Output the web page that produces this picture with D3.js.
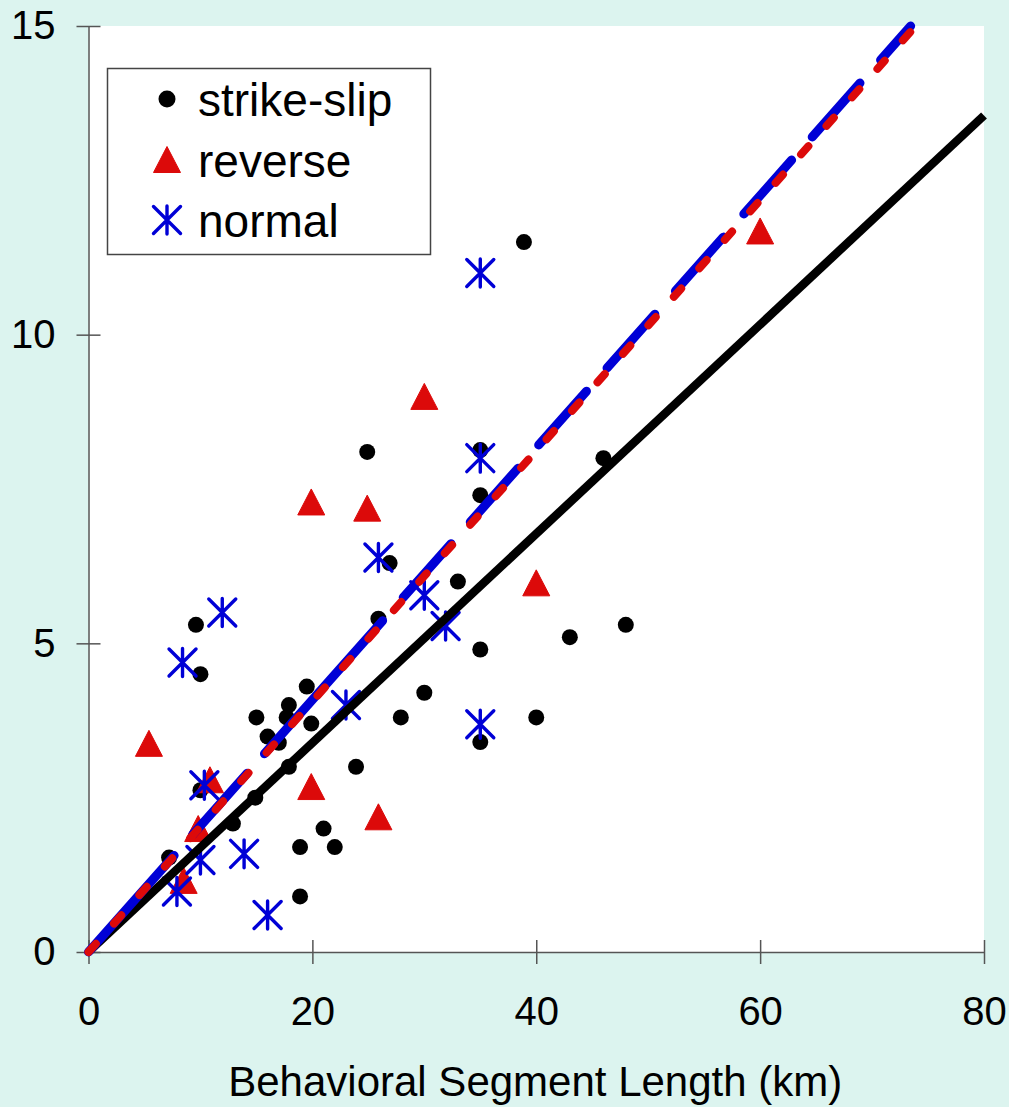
<!DOCTYPE html>
<html>
<head>
<meta charset="utf-8">
<script src="https://cdn.jsdelivr.net/npm/d3@7"></script>
<style>
  html, body { margin: 0; padding: 0; background: #dcf4ef; }
  svg { display: block; font-family: "Liberation Sans", Arial, sans-serif; }
</style>
</head>
<body>
<svg id="chart" width="1009" height="1107"></svg>
<script>
// strike-slip (black dots)
const strikeX = [7.2, 9.6, 10, 10, 12.9, 14.9, 15, 16, 17, 17.9, 17.7, 17.9, 19.5, 19.9, 18.9, 18.9, 21, 22,
  23.9, 24.9, 25.9, 26.9, 27.9, 30, 33, 35, 35, 35, 35, 38.9, 40, 43, 46, 48];
const strikeY = [1.53, 5.3, 4.5, 2.62, 2.08, 2.5, 3.8, 3.49, 3.39, 4.0, 3.8, 3.0, 4.3, 3.7, 0.9, 1.7, 2.0, 1.7,
  3.0, 8.1, 5.4, 6.3, 3.8, 4.2, 6.0, 8.13, 7.4, 4.9, 3.4, 11.5, 3.8, 5.1, 8.0, 5.3];

// reverse (red triangles)
const reverseX = [5.4, 8.5, 9.8, 10.85, 19.9, 19.9, 24.9, 25.9, 30, 40, 60];
const reverseY = [3.38, 1.16, 2.0, 2.79, 2.68, 7.29, 7.19, 2.19, 9.0, 5.98, 11.68];

// normal (blue asterisks)
const normalX = [7.9, 8.4, 10, 10.35, 11.95, 13.9, 16, 23, 25.9, 30, 31.9, 35, 35, 35];
const normalY = [0.98, 4.69, 1.49, 2.7, 5.5, 1.59, 0.6, 4.0, 6.39, 5.78, 5.28, 8.0, 3.69, 11.0];

// fitted lines
const allFitX = [0, 80];
const allFitY = [0, 13.55];
const normalFitX = [0, 73.45];
const normalFitY = [0, 15];
const reverseFitX = [0, 73.9];
const reverseFitY = [0, 15];

const xTicks = [0, 20, 40, 60, 80];
const yTicks = [0, 5, 10, 15];
const legendLabels = ['strike-slip', 'reverse', 'normal'];
const xTitle = 'Behavioral Segment Length (km)';

const BLACK = '#000000', RED = '#dc0a0a', BLUE = '#0000d6', AXIS = '#555555';

const svg = d3.select('#chart');
const plotLeft = 88.5, plotRight = 984, plotTop = 26, plotBottom = 952;

const x = d3.scaleLinear().domain([0, 80]).range([plotLeft, plotRight]);
const y = d3.scaleLinear().domain([0, 15]).range([plotBottom, plotTop]);

// plot area
svg.append('rect')
  .attr('x', plotLeft).attr('y', plotTop)
  .attr('width', plotRight - plotLeft).attr('height', plotBottom - plotTop)
  .attr('fill', '#ffffff');

// axes
const xAxis = svg.append('g')
  .attr('transform', `translate(0,${plotBottom})`)
  .call(d3.axisBottom(x).tickValues(xTicks).tickSize(12).tickSizeOuter(0).tickPadding(33).tickFormat(d3.format('d')));
xAxis.selectAll('.tick line').attr('y1', -12);

const yAxis = svg.append('g')
  .attr('transform', `translate(${plotLeft},0)`)
  .call(d3.axisLeft(y).tickValues(yTicks).tickSize(12).tickSizeOuter(0).tickPadding(21).tickFormat(d3.format('d')));
yAxis.selectAll('.tick line').attr('x1', 12);

svg.selectAll('.domain, .tick line').attr('stroke', AXIS).attr('stroke-width', 1.5);
svg.selectAll('.tick text')
  .attr('fill', '#000')
  .style('font-size', '40px')
  .style('font-family', '"Liberation Sans", Arial, sans-serif');

svg.append('text')
  .attr('x', (plotLeft + plotRight) / 2 - 1)
  .attr('y', 1096)
  .attr('text-anchor', 'middle')
  .style('font-size', '42px')
  .text(xTitle);

// marker shapes
const triPath = 'M0,-13L13.5,13L-13.5,13Z';
const starPath = 'M0,-14L0,14M-13.5,-13.5L13.5,13.5M-13.5,13.5L13.5,-13.5';

const marks = svg.append('g');

marks.selectAll('circle.ss')
  .data(d3.zip(strikeX, strikeY))
  .enter().append('circle')
  .attr('class', 'ss')
  .attr('cx', d => x(d[0]))
  .attr('cy', d => y(d[1]))
  .attr('r', 8)
  .attr('fill', BLACK);

marks.selectAll('path.rev')
  .data(d3.zip(reverseX, reverseY))
  .enter().append('path')
  .attr('class', 'rev')
  .attr('d', triPath)
  .attr('transform', d => `translate(${x(d[0])},${y(d[1])})`)
  .attr('fill', RED)
  .attr('stroke', RED)
  .attr('stroke-width', 1)
  .attr('stroke-linejoin', 'round');

marks.selectAll('path.nor')
  .data(d3.zip(normalX, normalY))
  .enter().append('path')
  .attr('class', 'nor')
  .attr('d', starPath)
  .attr('transform', d => `translate(${x(d[0])},${y(d[1])})`)
  .attr('fill', 'none')
  .attr('stroke', BLUE)
  .attr('stroke-width', 3.4)
  .attr('stroke-linecap', 'round');

// fit lines
const line = d3.line().x(d => x(d[0])).y(d => y(d[1]));

svg.append('path')
  .attr('d', line(d3.zip(allFitX, allFitY)))
  .attr('fill', 'none')
  .attr('stroke', BLACK)
  .attr('stroke-width', 8.5);

// blue long dashes (the first few are irregular in the original)
const blueDash = [129, 28, 82, 26, 178, 31, 72, 29, 72, 31];
for (let i = 0; i < 12; i++) blueDash.push(72, 31);

svg.append('path')
  .attr('d', line(d3.zip(normalFitX, normalFitY)))
  .attr('fill', 'none')
  .attr('stroke', BLUE)
  .attr('stroke-width', 9)
  .attr('stroke-linecap', 'round')
  .attr('stroke-dasharray', blueDash.join(','));

svg.append('path')
  .attr('d', line(d3.zip(reverseFitX, reverseFitY)))
  .attr('fill', 'none')
  .attr('stroke', RED)
  .attr('stroke-width', 8)
  .attr('stroke-linecap', 'round')
  .attr('stroke-dasharray', '11,27.2');

// legend
const legend = svg.append('g');
legend.append('rect')
  .attr('x', 107.5).attr('y', 68.5)
  .attr('width', 323).attr('height', 186)
  .attr('fill', '#ffffff')
  .attr('stroke', '#444')
  .attr('stroke-width', 1.5);

const legendRows = legend.selectAll('g.row')
  .data(legendLabels)
  .enter().append('g')
  .attr('class', 'row')
  .attr('transform', (d, i) => `translate(167,${99 + i * 60.5})`);

legendRows.each(function (d, i) {
  const g = d3.select(this);
  if (i === 0) {
    g.append('circle').attr('r', 8.5).attr('fill', BLACK);
  } else if (i === 1) {
    g.append('path').attr('d', triPath).attr('fill', RED).attr('stroke', RED)
      .attr('stroke-width', 1).attr('stroke-linejoin', 'round');
  } else {
    g.append('path').attr('d', starPath).attr('fill', 'none').attr('stroke', BLUE)
      .attr('stroke-width', 3.4).attr('stroke-linecap', 'round');
  }
  g.append('text')
    .attr('x', 31)
    .attr('y', 17)
    .style('font-size', '46px')
    .text(d);
});
</script>
</body>
</html>
